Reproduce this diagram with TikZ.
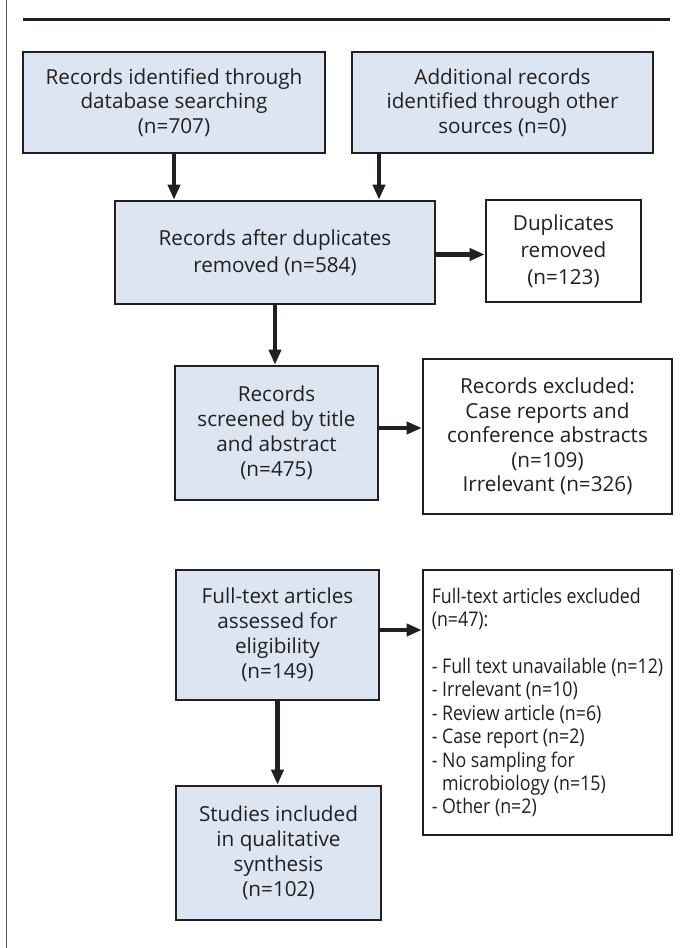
\documentclass[tikz,border=0pt]{standalone}
\usepackage{fontspec}
\setmainfont{Open Sans}
\newfontfamily\narrowsans[FakeStretch=0.88]{Open Sans}
\usetikzlibrary{arrows.meta,calc}
\definecolor{boxblue}{RGB}{220,230,242}
\definecolor{ink}{RGB}{35,31,32}
\begin{document}
\begin{tikzpicture}[x=1pt,y=-1pt,
  every node/.style={text=ink,font=\fontsize{20.7}{24.5}\selectfont},
  flowbox/.style={draw=ink,line width=2.6pt,fill=boxblue,align=center,inner sep=0pt,anchor=center},
  sidebox/.style={draw=ink,line width=2.6pt,fill=white,align=center,inner sep=0pt,anchor=center},
  arr/.style={draw=ink,line width=4.2pt,-{Triangle[length=15pt,width=12pt]}}]
\useasboundingbox (0,0) rectangle (680,948);
\fill[white] (0,0) rectangle (680,948);
% frame line and top rule
\coordinate (lt) at (6.5,0);
\coordinate (lb) at (6.5,948);
\draw[line width=1.2pt,draw=black!65] (lt) -- (lb);
\coordinate (rl) at (23,19.5);
\coordinate (rr) at (670,19.5);
\draw[line width=3pt,draw=ink] (rl) -- (rr);
% boxes
\node[flowbox,minimum width=302pt,minimum height=101pt] (b1) at (174,102.5)
  {Records identified through\\database searching\\(n=707)};
\node[flowbox,minimum width=301pt,minimum height=101pt] (b2) at (502.5,102.5)
  {Additional records\\identified through other\\sources (n=0)};
\node[flowbox,minimum width=320pt,minimum height=103pt,font=\fontsize{20.7}{27}\selectfont] (b3) at (275,252.5)
  {Records after duplicates\\removed (n=584)};
\node[sidebox,minimum width=155pt,minimum height=102pt,font=\fontsize{20.7}{27}\selectfont] (dup) at (563.5,251)
  {Duplicates\\removed\\(n=123)};
\node[flowbox,minimum width=203pt,minimum height=134pt,font=\fontsize{20.7}{25}\selectfont] (scr) at (276.5,433)
  {Records\\screened by title\\and abstract\\(n=475)};
\node[sidebox,minimum width=249pt,minimum height=155pt] (exc1) at (547.5,436.5)
  {Records excluded:\\Case reports and\\conference abstracts\\(n=109)\\Irrelevant (n=326)};
\node[flowbox,minimum width=203pt,minimum height=130pt,font=\fontsize{20.7}{25}\selectfont] (ft) at (277.5,635)
  {Full-text articles\\assessed for\\eligibility\\(n=149)};
\node[sidebox,minimum width=249pt,minimum height=265pt,align=left,font=\narrowsans\fontsize{20.2}{23.4}\selectfont] (exc2) at (547.5,702.5)
  {Full-text articles excluded\\(n=47):\\[23.4pt]- Full text unavailable (n=12)\\- Irrelevant (n=10)\\- Review article (n=6)\\- Case report (n=2)\\- No sampling for\\\phantom{- }microbiology (n=15)\\- Other (n=2)};
\node[flowbox,minimum width=205pt,minimum height=134pt,font=\fontsize{20.7}{25}\selectfont] (st) at (278.5,853)
  {Studies included\\in qualitative\\synthesis\\(n=102)};
% connectors
\draw[arr] (b1.south) -- (b1.south |- b3.north);
\draw[arr] ([xshift=-123.5pt]b2.south) -- ([xshift=-123.5pt]b2.south |- b3.north);
\draw[arr] ([yshift=-2pt]b3.east) -- ([yshift=-2pt]b3.east -| dup.west);
\draw[arr] (b3.south) -- (b3.south |- scr.north);
\draw[arr] ([yshift=5pt]scr.east) -- ([yshift=5pt]scr.east -| exc1.west);
\draw[arr] ([yshift=5pt]ft.east) -- ([yshift=5pt]ft.east -| exc2.west);
\draw[arr] (ft.south) -- (ft.south |- st.north);
\end{tikzpicture}
\end{document}
